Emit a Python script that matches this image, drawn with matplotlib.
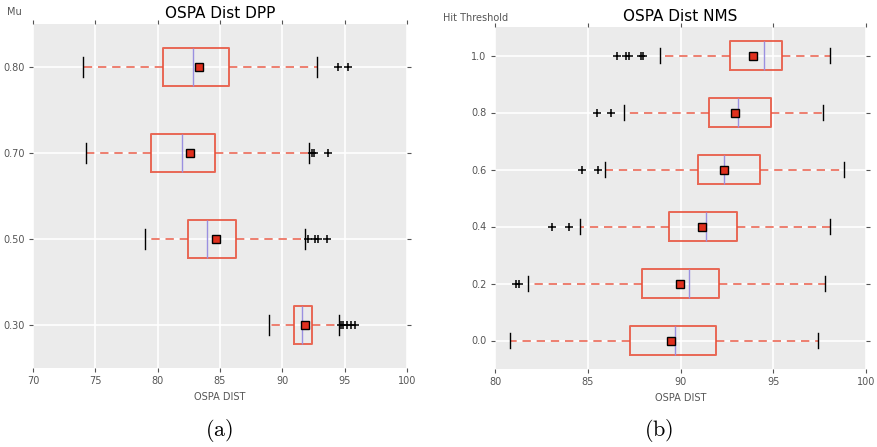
import matplotlib
matplotlib.use('Agg')
import matplotlib.pyplot as plt

# --- data (OSPA distance box statistics) ---
mu_labels = ['0.30', '0.50', '0.70', '0.80']
mu_whislo = [88.95, 79.0, 74.25, 74.0]
mu_q1 = [90.96, 82.4, 79.5, 80.45]
mu_med = [91.6, 83.93, 81.97, 82.8]
mu_q3 = [92.4, 86.3, 84.6, 85.74]
mu_whishi = [94.56, 91.84, 92.16, 92.8]
mu_mean = [91.84, 84.65, 82.6, 83.34]
mu_fliers = [[94.7, 94.9, 95.2, 95.5, 95.8],
             [92.08, 92.6, 92.88, 93.55],
             [92.4, 92.5, 93.7],
             [94.5, 95.3]]

hit_labels = ['0.0', '0.2', '0.4', '0.6', '0.8', '1.0']
hit_whislo = [80.81, 81.8, 84.6, 85.95, 86.97, 88.91]
hit_q1 = [87.3, 87.92, 89.4, 90.93, 91.52, 92.65]
hit_med = [89.72, 90.44, 91.36, 92.33, 93.08, 94.48]
hit_q3 = [91.9, 92.06, 93.03, 94.29, 94.86, 95.47]
hit_whishi = [97.41, 97.77, 98.08, 98.83, 97.66, 98.06]
hit_mean = [89.5, 89.97, 91.18, 92.33, 92.95, 93.91]
hit_fliers = [[],
              [81.15, 81.28],
              [83.05, 83.97],
              [84.69, 85.53],
              [85.52, 86.25],
              [86.58, 87.04, 87.2, 87.87, 88.0]]

RED = '#E8503A'
PURPLE = '#9A90E0'
GREY = '#555555'


def make_stats(labels, lo, q1, med, q3, hi, mean, fliers):
    stats = []
    for i in range(len(labels)):
        stats.append(dict(label=labels[i], whislo=lo[i], q1=q1[i], med=med[i],
                          q3=q3[i], whishi=hi[i], mean=mean[i], fliers=fliers[i]))
    return stats


def draw(ax, stats, xlim, xticks, ylabel, title):
    ax.set_facecolor('#EBEBEB')
    for s in ax.spines.values():
        s.set_visible(False)
    ax.grid(True, color='white', linewidth=1.2)
    ax.set_axisbelow(True)
    ax.bxp(stats, vert=False, showmeans=True,
           boxprops=dict(color=RED, linewidth=1.4, alpha=0.85),
           whiskerprops=dict(color=RED, linestyle=(0, (5, 3.5)), linewidth=1.2, alpha=0.85),
           capprops=dict(color='black', linewidth=1.0),
           medianprops=dict(color=PURPLE, linewidth=1.0),
           meanprops=dict(marker='s', markerfacecolor='#E0301E', markeredgecolor='black',
                          markersize=5.5, markeredgewidth=1.0),
           flierprops=dict(marker='+', markeredgecolor='black', markersize=6,
                           markeredgewidth=1.1))
    ax.set_xlim(*xlim)
    ax.set_xticks(xticks)
    ax.set_xticklabels([str(t) for t in xticks])
    ax.set_ylim(0.5, len(stats) + 0.5)
    ax.tick_params(axis='both', direction='out', length=3, width=0.8, color=GREY,
                   labelcolor=GREY, labelsize=7, top=True, right=True, pad=3)
    ax.set_xlabel('OSPA DIST', fontsize=7, color=GREY, labelpad=4)
    ax.set_title(title, fontsize=11, pad=4)
    ax.set_ylabel(ylabel, fontsize=7, color=GREY, rotation=0, ha='left', va='center')


fig = plt.figure(figsize=(8.77, 4.47), dpi=100)
ax1 = fig.add_axes([33 / 877, 1 - 368 / 447, 374 / 877, 344 / 447])
ax2 = fig.add_axes([495 / 877, 1 - 369 / 447, 371 / 877, 342 / 447])

draw(ax1, make_stats(mu_labels, mu_whislo, mu_q1, mu_med, mu_q3, mu_whishi, mu_mean, mu_fliers),
     (70, 100), [70, 75, 80, 85, 90, 95, 100], 'Mu', 'OSPA Dist DPP')
ax1.yaxis.set_label_coords(-0.07, 1.035)

draw(ax2, make_stats(hit_labels, hit_whislo, hit_q1, hit_med, hit_q3, hit_whishi, hit_mean, hit_fliers),
     (80, 100), [80, 85, 90, 95, 100], 'Hit Threshold', 'OSPA Dist NMS')
ax2.yaxis.set_label_coords(-0.14, 1.025)

plt.rcParams['mathtext.fontset'] = 'cm'
fig.text(219 / 877, 1 - 430 / 447, r'$\mathrm{(a)}$', fontsize=16, ha='center', va='center')
fig.text(659 / 877, 1 - 430 / 447, r'$\mathrm{(b)}$', fontsize=16, ha='center', va='center')

fig.savefig('out.png', dpi=100)
